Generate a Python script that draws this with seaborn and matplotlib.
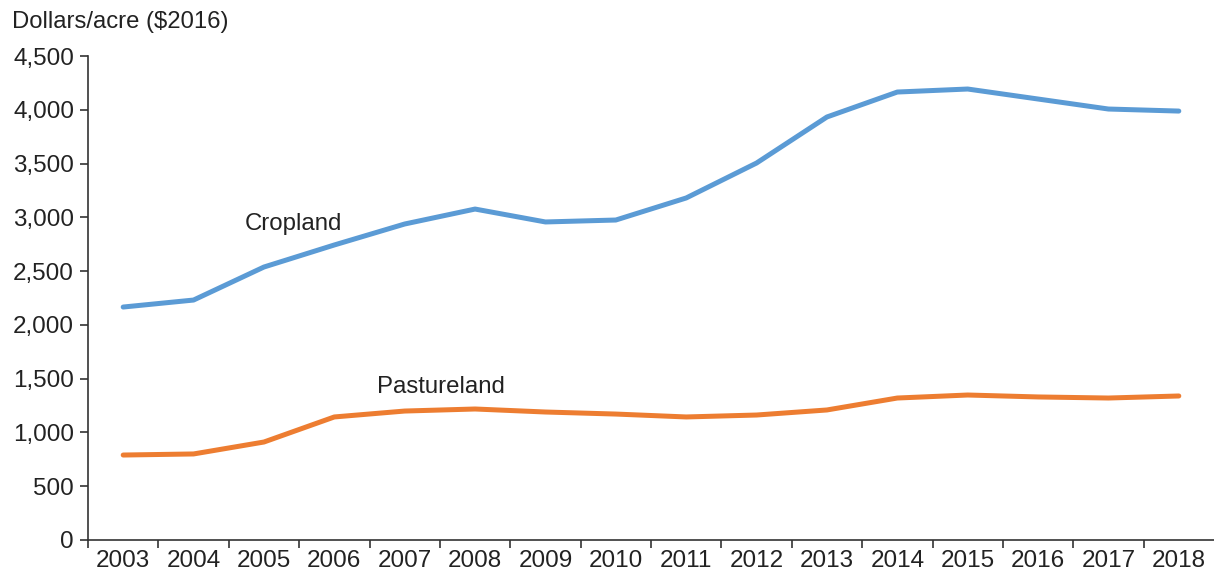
import matplotlib
matplotlib.use("Agg")
import matplotlib.pyplot as plt
import matplotlib.ticker as mticker
import numpy as np
import pandas as pd
import seaborn as sns

years = list(range(2003, 2019))
cropland = [2166, 2231, 2538, 2743, 2938, 3077, 2957, 2975, 3180, 3505,
            3933, 4165, 4193, 4100, 4007, 3988]
pastureland = [790, 800, 911, 1144, 1199, 1218, 1190, 1171, 1144, 1162,
               1209, 1320, 1348, 1330, 1320, 1339]
series_names = ["Cropland", "Pastureland"]
colors = {"Cropland": "#5B9BD5", "Pastureland": "#ED7D31"}

df = pd.DataFrame({
    "year": years * 2,
    "value": cropland + pastureland,
    "series": ["Cropland"] * len(years) + ["Pastureland"] * len(years),
})

sns.set_style("white")
plt.rcParams["font.family"] = ["Liberation Sans", "DejaVu Sans"]

fig = plt.figure(figsize=(12.14, 5.7), dpi=100)
ax = fig.add_axes([88 / 1214, 30 / 570, 1 - 88 / 1214, (540 - 56) / 570])

sns.lineplot(data=df, x="year", y="value", hue="series", palette=colors,
             linewidth=3.6, legend=False, ax=ax)

ax.set_xlim(years[0] - 0.5, years[-1] + 0.5)
ax.set_ylim(0, 4500)
ax.yaxis.set_major_locator(mticker.MultipleLocator(500))
ax.yaxis.set_major_formatter(mticker.FuncFormatter(lambda v, p: f"{int(v):,}"))

# boundary ticks between years, labels centred on years
ax.set_xticks(np.arange(years[0] - 0.5, years[-1], 1.0))
ax.set_xticklabels([])
ax.set_xticks(years, minor=True)
ax.set_xticklabels([str(y) for y in years], minor=True)
ax.tick_params(axis="x", which="major", bottom=True, direction="out", length=6,
               width=1.2, color="#333333")
ax.tick_params(axis="x", which="minor", bottom=True, length=0, labelsize=17.5,
               pad=7, labelcolor="#222222")
ax.tick_params(axis="y", left=True, direction="out", length=6, width=1.2,
               color="#333333", labelsize=17.5, pad=4, labelcolor="#222222")

for side in ["top", "right"]:
    ax.spines[side].set_visible(False)
for side in ["left", "bottom"]:
    ax.spines[side].set_color("#333333")
    ax.spines[side].set_linewidth(1.2)

ax.set_xlabel("")
ax.set_ylabel("")

ax.text(2005.42, 2938, "Cropland", fontsize=17.3, ha="center", va="center", color="#222222")
ax.text(2007.52, 1422, "Pastureland", fontsize=17.3, ha="center", va="center", color="#222222")

fig.text(12 / 1214, 1 - 22 / 570, "Dollars/acre ($2016)", fontsize=17.2,
         ha="left", va="center", color="#222222")

fig.savefig("out.png", dpi=100)
